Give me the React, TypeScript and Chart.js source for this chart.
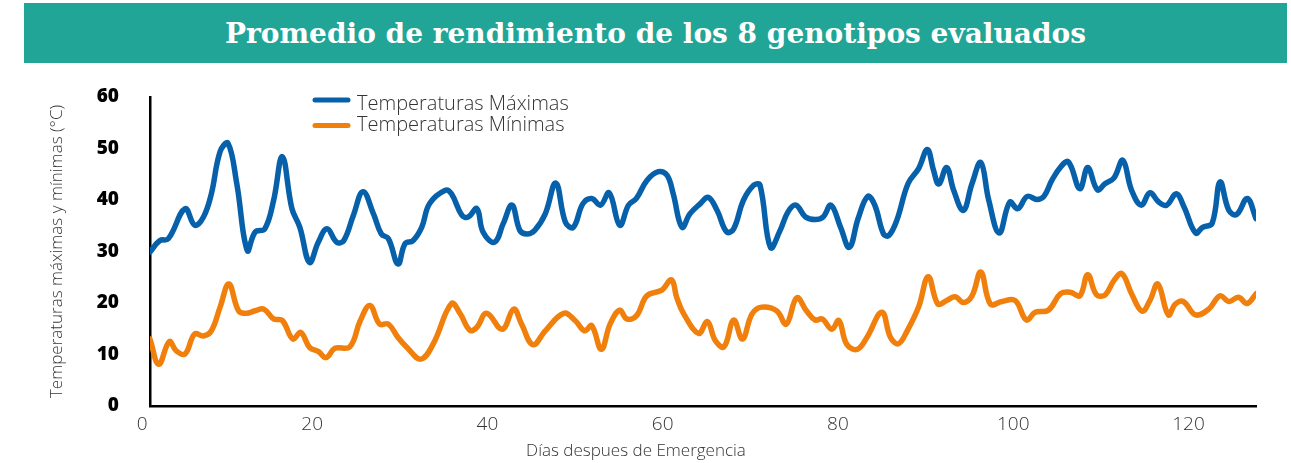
import React, { useEffect, useRef } from "react";
import { Chart, registerables } from "chart.js";

Chart.register(...registerables);

const titleText = "Promedio de rendimiento de los 8 genotipos evaluados";
const maxLabel = "Temperaturas Máximas";
const minLabel = "Temperaturas Mínimas";
const xAxisTitle = "Días despues de Emergencia";
const yAxisTitle = "Temperaturas máximas y mínimas (°C)";

const xTickValues = [0, 20, 40, 60, 80, 100, 120];
const yTickValues = [0, 10, 20, 30, 40, 50, 60];

const maxDays = [
  1.5, 2.6, 3.6, 5.5, 6.6, 7.6, 8.5, 9.5, 10.4, 11.4, 12.6, 13.5, 14.6, 15.6, 16.6, 17.7, 18.6, 19.7, 20.7, 21.7,
  22.8, 23.6, 24.7, 25.8, 27.0, 27.9, 28.7, 29.8, 30.6, 31.5, 32.5, 33.4, 35.2, 35.9, 37.1, 37.8, 38.8, 39.5, 40.8,
  41.8, 42.8, 43.7, 44.5, 45.4, 46.6, 47.8, 48.9, 49.8, 50.9, 51.9, 52.9, 53.9, 55.1, 56.1, 57.0, 58.2, 59.5, 60.5,
  61.2, 62.2, 63.1, 64.3, 65.2, 66.2, 67.3, 68.1, 69.2, 70.4, 71.1, 72.3, 73.4, 74.3, 75.2, 76.3, 77.4, 78.3, 79.2,
  80.3, 81.3, 82.3, 83.4, 84.2, 85.2, 85.8, 86.7, 88.0, 89.2, 90.2, 90.9, 91.5, 92.4, 93.2, 94.3, 95.3, 96.3, 97.2,
  98.4, 99.6, 100.5, 101.6, 102.7, 103.5, 104.4, 105.4, 106.3, 107.6, 108.5, 109.6, 110.5, 111.5, 112.5, 113.5,
  114.6, 115.6, 116.6, 117.5, 118.6, 119.5, 120.8, 121.6, 122.7, 123.6, 124.6, 125.5, 126.7, 127.7,
];
const maxTemps = [
  29.9, 32.1, 32.5, 38.3, 35.1, 36.7, 41.2, 49.4, 51.0, 43.2, 30.2, 33.8, 34.4, 39.9, 48.4, 38.3, 34.7, 27.9, 31.8, 34.4,
  31.8, 32.1, 37.0, 41.6, 37.3, 33.4, 32.5, 27.6, 31.5, 32.1, 34.7, 39.3, 41.9, 41.2, 37.0, 36.7, 38.3, 33.8, 31.8,
  35.4, 39.0, 34.1, 33.4, 34.1, 37.3, 43.3, 35.7, 34.7, 39.3, 40.3, 39.0, 41.4, 35.1, 39.0, 40.3, 43.8, 45.5, 44.8,
  41.2, 34.7, 37.3, 39.3, 40.5, 38.0, 33.8, 34.4, 39.9, 42.9, 42.9, 30.8, 34.1, 37.7, 39.0, 36.7, 36.2, 36.7, 39.0,
  34.7, 30.8, 36.4, 40.7, 39.0, 33.4, 33.1, 36.0, 43.2, 46.1, 49.8, 45.8, 43.1, 46.3, 41.9, 38.0, 43.2, 47.3, 40.0,
  33.6, 39.6, 38.3, 40.7, 40.1, 40.7, 43.8, 46.4, 47.4, 42.2, 46.3, 42.0, 43.2, 44.3, 47.7, 41.9,
  39.0, 41.4, 39.6, 39.0, 41.2, 38.6, 33.6, 34.7, 35.5, 43.5, 38.0, 37.2, 40.3, 36.4,
];

const minDays = [
  1.5, 2.5, 3.7, 4.5, 5.5, 6.6, 7.6, 8.5, 9.5, 10.5, 11.6, 12.5, 13.5, 14.5, 15.6, 16.6, 17.8, 18.7, 19.7, 20.7,
  21.6, 22.6, 24.3, 25.5, 26.6, 27.7, 28.7, 29.8, 30.8, 32.4, 33.8, 35.9, 36.9, 38.0, 38.8, 39.9, 41.7, 43.0, 43.9,
  45.2, 46.6, 48.7, 50.0, 51.1, 51.9, 53.0, 54.0, 55.1, 55.9, 57.0, 58.2, 59.9, 61.0, 61.6, 62.4, 64.1, 65.1, 66.0,
  67.0, 68.1, 69.1, 70.2, 71.3, 73.0, 74.1, 75.3, 76.4, 77.4, 78.2, 79.3, 80.1, 81.0, 82.2, 83.3, 85.0, 86.0, 86.9,
  87.9, 89.2, 90.3, 91.4, 92.4, 93.4, 94.3, 95.3, 96.3, 97.4, 98.7, 100.2, 101.5, 102.5, 104.0, 105.4, 106.5, 107.6,
  108.5, 109.5, 110.5, 111.5, 112.4, 113.5, 114.7, 115.6, 116.5, 117.7, 118.5, 119.4, 120.8, 122.3, 123.6, 124.6,
  125.7, 126.7, 127.7,
];
const minTemps = [
  13.0, 8.1, 12.5, 10.7, 10.1, 14.0, 13.6, 14.6, 19.2, 23.7, 18.5, 18.0, 18.5, 18.8, 16.9, 16.6, 13.0, 14.3, 11.4, 10.6,
  9.4, 11.2, 11.5, 16.6, 19.5, 15.9, 15.9, 13.3, 11.4, 9.1, 12.0, 19.9, 17.9, 14.7, 15.3, 18.0, 14.9, 18.8, 15.9,
  11.9, 14.6, 18.0, 16.6, 14.6, 15.6, 11.0, 15.9, 18.6, 16.9, 17.5, 21.4, 22.5, 24.5, 21.1, 17.9, 14.1, 16.4, 12.7,
  11.5, 16.7, 13.0, 17.9, 19.2, 18.5, 15.9, 21.0, 18.5, 16.7, 16.9, 14.9, 16.6, 12.0, 11.0, 13.3, 18.2, 13.3, 12.1,
  14.6, 19.2, 25.1, 19.8, 20.5, 21.2, 20.1, 21.4, 26.0, 19.8, 20.3, 20.5, 16.7, 18.2, 18.6, 21.8, 22.1, 21.4,
  25.5, 21.6, 21.6, 24.4, 25.7, 21.8, 18.4, 20.5, 23.7, 17.7, 19.8, 20.3, 17.7, 18.8, 21.4, 20.3,
  21.1, 19.9, 21.8,
];

const BLUE = "#0760aa";
const ORANGE = "#f07f0b";
const SANS = "'Open Sans', 'Noto Sans', sans-serif";

const legendPlugin = {
  id: "customLegend",
  afterDraw(chart: any) {
    const ctx = chart.ctx;
    const rows = [
      { lineY: 100, textY: 104 },
      { lineY: 125.5, textY: 125 },
    ];
    ctx.save();
    chart.data.datasets.forEach((ds: any, i: number) => {
      const r = rows[i];
      ctx.strokeStyle = ds.borderColor;
      ctx.lineWidth = 5;
      ctx.lineCap = "round";
      ctx.beginPath();
      ctx.moveTo(315, r.lineY);
      ctx.lineTo(348, r.lineY);
      ctx.stroke();
      ctx.fillStyle = "#333333";
      ctx.font = `300 20px ${SANS}`;
      ctx.textBaseline = "middle";
      ctx.textAlign = "left";
      ctx.fillText(ds.label, 357, r.textY);
    });
    // x axis title
    ctx.fillStyle = "#333333";
    ctx.font = `300 17px ${SANS}`;
    ctx.textAlign = "center";
    ctx.textBaseline = "middle";
    ctx.fillText(xAxisTitle, 636, 451);
    ctx.restore();
  },
};

export default function App() {
  const canvasRef = useRef<HTMLCanvasElement | null>(null);

  useEffect(() => {
    if (!canvasRef.current) return;
    const chart = new Chart(canvasRef.current, {
      type: "line",
      data: {
        datasets: [
          {
            label: maxLabel,
            data: maxDays.map((d, i) => ({ x: d, y: maxTemps[i] })),
            borderColor: BLUE,
            backgroundColor: BLUE,
            borderWidth: 5.5,
            pointRadius: 0,
            tension: 0.4,
            borderCapStyle: "round",
            borderJoinStyle: "round",
          },
          {
            label: minLabel,
            data: minDays.map((d, i) => ({ x: d, y: minTemps[i] })),
            borderColor: ORANGE,
            backgroundColor: ORANGE,
            borderWidth: 5.5,
            pointRadius: 0,
            tension: 0.4,
            borderCapStyle: "round",
            borderJoinStyle: "round",
          },
        ],
      },
      options: {
        responsive: false,
        animation: false,
        devicePixelRatio: 1,
        layout: { padding: { left: 0, top: 97, right: 35, bottom: 0 } },
        plugins: {
          legend: { display: false },
          tooltip: { enabled: false },
          title: { display: false },
        },
        scales: {
          x: {
            type: "linear",
            min: 1.5,
            max: 127.7,
            afterBuildTicks: (s: any) => {
              s.ticks = xTickValues.map((v) => ({ value: v < s.min ? s.min - 0.9 : v }));
            },
            afterFit: (s: any) => {
              s.height = 57;
            },
            grid: { display: false, drawTicks: false },
            border: { display: true, color: "#000000", width: 2.5 },
            ticks: {
              autoSkip: false,
              maxRotation: 0,
              padding: 7,
              color: "#333333",
              font: { family: SANS, size: 19, weight: "300" as any },
              callback: (_v: any, i: number) => String(xTickValues[i]),
            },
            title: { display: false },
          },
          y: {
            type: "linear",
            min: 0,
            max: 60,
            afterBuildTicks: (s: any) => {
              s.ticks = yTickValues.map((v) => ({ value: v }));
            },
            afterFit: (s: any) => {
              s.width = 150;
            },
            grid: { display: false, drawTicks: false },
            border: { display: true, color: "#000000", width: 2.5 },
            ticks: {
              padding: 31,
              color: "#000000",
              font: { family: SANS, size: 19, weight: "800" as any },
            },
            title: {
              display: true,
              text: yAxisTitle,
              color: "#333333",
              font: { family: SANS, size: 17, weight: "300" as any },
              padding: { top: 47, bottom: 0 },
            },
          },
        },
      },
      plugins: [legendPlugin],
    });
    return () => chart.destroy();
  }, []);

  return (
    <div style={{ position: "absolute", left: 0, top: 0, width: 1291, height: 463, background: "#ffffff" }}>
      <div
        style={{
          position: "absolute",
          left: 24,
          top: 3,
          width: 1263,
          height: 60,
          background: "#21a597",
          color: "#ffffff",
          display: "flex",
          alignItems: "center",
          justifyContent: "center",
          fontFamily: "'DejaVu Serif', serif",
          fontWeight: "bold",
          fontSize: 28,
          whiteSpace: "nowrap",
        }}
      >
        {titleText}
      </div>
      <canvas
        ref={canvasRef}
        width={1291}
        height={463}
        style={{ position: "absolute", left: 0, top: 0, width: 1291, height: 463 }}
      />
    </div>
  );
}
